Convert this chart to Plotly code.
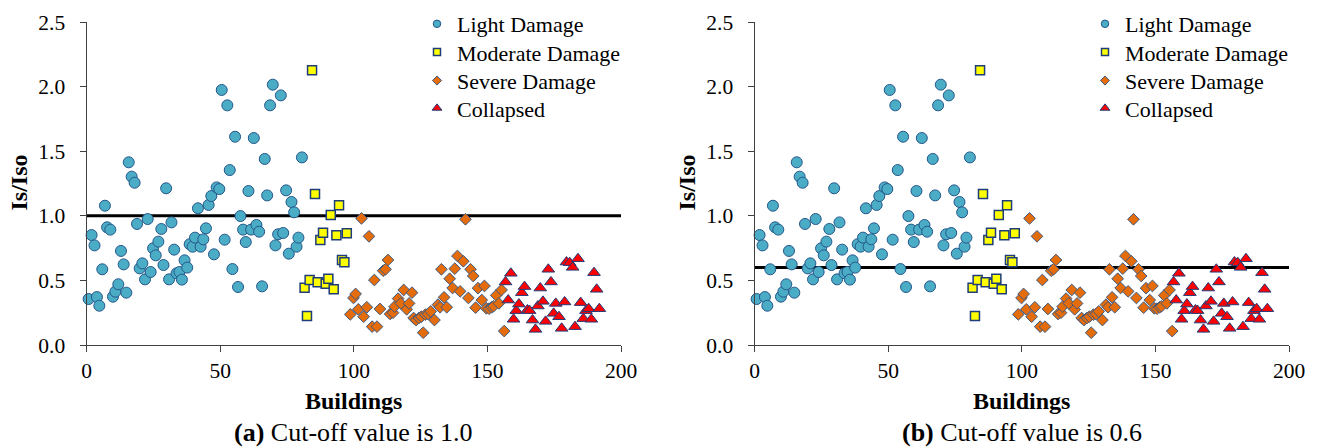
import plotly.graph_objects as go

W, H = 1319, 448

# ---------------- data ----------------
light_x = [0.8, 1.9, 3.0, 3.9, 4.8, 5.9, 6.9, 7.7, 8.9, 9.9, 10.8, 11.9, 12.9, 13.9, 14.9,
           15.8, 16.9, 18.0, 18.9, 19.9, 20.9, 21.9, 22.9, 24.0, 24.9, 25.9, 26.9, 28.0,
           28.8, 29.8, 30.9, 31.8, 32.8, 33.7, 34.8, 35.7, 36.7, 37.7, 38.6, 39.7, 40.6,
           41.7, 42.7, 43.7, 44.7, 45.7, 46.7, 47.7, 48.7, 49.7, 50.6, 51.7, 52.7, 53.6,
           54.6, 55.6, 56.7, 57.6, 58.6, 59.6, 60.6, 61.6, 62.6, 63.6, 64.6, 65.7, 66.7,
           67.6, 68.7, 69.7, 70.7, 71.7, 72.7, 73.6, 74.7, 75.7, 76.7, 77.7, 78.6, 79.3,
           80.6]
light_y = [0.356, 0.851, 0.771, 0.371, 0.304, 0.586, 1.078, 0.911, 0.893, 0.374, 0.413,
           0.470, 0.728, 0.624, 0.405, 1.414, 1.303, 1.256, 0.937, 0.593, 0.632, 0.508,
           0.975, 0.565, 0.748, 0.694, 0.800, 0.898, 0.619, 1.213, 0.508, 0.949, 0.738,
           0.555, 0.565, 0.506, 0.655, 0.599, 0.780, 0.761, 0.831, 1.058, 0.761, 0.818,
           0.903, 1.084, 1.153, 0.702, 1.220, 1.207, 1.974, 0.815, 1.855, 1.354, 0.588,
           1.612, 0.449, 0.998, 0.893, 0.797, 1.192, 0.893, 1.602, 0.929, 0.877, 0.454,
           1.440, 1.158, 1.855, 2.015, 0.771, 0.857, 1.932, 0.867, 1.197, 0.707, 1.107,
           1.027, 0.761, 0.831, 1.452]

moderate_x = [81.6, 82.5, 83.5, 84.4, 85.5, 86.5, 87.5, 88.5, 89.5, 90.5, 91.4, 92.5,
              93.5, 94.5, 95.6, 96.5, 97.4]
moderate_y = [0.444, 0.224, 0.503, 2.126, 1.169, 0.485, 0.813, 0.869, 0.475, 0.513, 1.006,
              0.431, 0.849, 1.081, 0.658, 0.640, 0.864]

severe_x = [98.7, 99.9, 100.7, 101.7, 102.9, 103.7, 104.9, 105.7, 106.9, 107.7, 108.7,
            109.8, 111.0, 111.9, 112.8, 113.6, 114.7, 115.3, 116.6, 117.6, 118.7, 119.8,
            120.7, 121.8, 122.4, 123.3, 124.4, 125.3, 126.0, 126.8, 127.8, 128.8, 130.2,
            131.5, 132.3, 132.8, 133.8, 134.8, 135.9, 137.0, 137.8, 138.8, 139.8, 141.0,
            141.8, 142.9, 143.7, 144.7, 145.6, 146.5, 147.9, 148.9, 149.6, 150.6, 151.6,
            152.3, 153.3, 154.3, 155.3, 156.3]
severe_y = [0.237, 0.364, 0.395, 0.276, 0.980, 0.219, 0.292, 0.841, 0.142, 0.503, 0.142,
            0.279, 0.575, 0.586, 0.658, 0.240, 0.250, 0.297, 0.359, 0.322, 0.426, 0.276,
            0.322, 0.405, 0.209, 0.193, 0.209, 0.219, 0.095, 0.235, 0.240, 0.260, 0.193,
            0.312, 0.292, 0.586, 0.369, 0.292, 0.513, 0.441, 0.591, 0.689, 0.415, 0.648,
            0.973, 0.364, 0.586, 0.534, 0.289, 0.440, 0.348, 0.457, 0.284, 0.281, 0.292,
            0.300, 0.384, 0.322, 0.426, 0.108]

collapsed_x = [156.8, 157.8, 158.8, 159.8, 160.8, 161.8, 162.9, 163.9, 165.0, 165.8, 166.9,
               168.0, 168.9, 169.8, 170.8, 171.8, 172.8, 173.8, 174.8, 175.6, 176.8, 177.8,
               178.9, 179.6, 180.8, 181.9, 182.8, 183.9, 184.9, 185.9, 186.9, 187.9, 188.9,
               189.9, 190.9, 191.9]
collapsed_y = [0.488, 0.348, 0.555, 0.199, 0.266, 0.317, 0.405, 0.452, 0.271, 0.266, 0.193,
               0.121, 0.302, 0.441, 0.338, 0.183, 0.586, 0.488, 0.245, 0.322, 0.219, 0.129,
               0.333, 0.642, 0.637, 0.601, 0.142, 0.668, 0.328, 0.204, 0.266, 0.281, 0.199,
               0.560, 0.431, 0.281]

cutoffs = [1.0, 0.6]
panel_letters = ["(a)", "(b)"]
x_ticks = [0, 50, 100, 150, 200]
y_ticks = [0.0, 0.5, 1.0, 1.5, 2.0, 2.5]

# ---------------- styling ----------------
FONT = "'Times New Roman', 'Liberation Serif', Times, serif"
series = [
    ("Light Damage", light_x, light_y,
     dict(symbol="circle", size=11, color="#4BACC6", line=dict(color="#24578A", width=1)), 7.5),
    ("Moderate Damage", moderate_x, moderate_y,
     dict(symbol="square", size=9, color="#FFFF00", line=dict(color="#1F3C7A", width=1.5)), 7),
    ("Severe Damage", severe_x, severe_y,
     dict(symbol="diamond", size=9, color="#E46C0A", line=dict(color="#3B5A85", width=1)), 7),
    ("Collapsed", collapsed_x, collapsed_y,
     dict(symbol="triangle-up", size=11, color="#FF0000", line=dict(color="#1F3C7A", width=1)), 8.5),
]

fig = go.Figure()

# pixel geometry of the two panels
panel_left = [86.5, 754.5]
panel_right = [621.0, 1289.0]
plot_top, plot_bottom = 22.0, 345.0
legend_row_tops = [3.0, 31.3, 59.7, 87.3]
legend_left = 417.0

legend_layout = {}
for p in range(2):
    xa = "x" if p == 0 else "x2"
    ya = "y" if p == 0 else "y2"
    for k, (name, xs, ys, mk, leg_size) in enumerate(series):
        fig.add_trace(go.Scatter(
            x=xs, y=ys, mode="markers", name=name, marker=mk,
            xaxis=xa, yaxis=ya, showlegend=False, cliponaxis=False,
        ))
        # legend entry (one small legend per entry so rows can be spaced like the original)
        idx = p * 4 + k + 1
        lname = "legend" if idx == 1 else f"legend{idx}"
        leg_marker = dict(mk)
        leg_marker["size"] = leg_size
        fig.add_trace(go.Scatter(
            x=[None], y=[None], mode="markers", name=name, marker=leg_marker,
            xaxis=xa, yaxis=ya, showlegend=True, legend=lname,
        ))
        legend_layout[lname] = dict(
            x=(legend_left + 668 * p) / W, y=1 - legend_row_tops[k] / H,
            xanchor="left", yanchor="top", bgcolor="rgba(0,0,0,0)",
            font=dict(family=FONT, size=22, color="black"), itemwidth=30,
        )
    # cut-off line
    fig.add_shape(type="line", xref=xa, yref=ya, x0=x_ticks[0], x1=x_ticks[-1],
                  y0=cutoffs[p], y1=cutoffs[p], line=dict(color="black", width=3),
                  layer="below")

axis_common = dict(
    showline=True, linecolor="#404040", linewidth=1, ticks="outside", ticklen=6,
    tickcolor="#404040", showgrid=False, zeroline=False,
    tickfont=dict(family=FONT, size=21.5, color="black"), automargin=False,
)

y_dom = [(H - plot_bottom) / H, (H - plot_top) / H]
for p in range(2):
    sfx = "" if p == 0 else str(p + 1)
    fig.update_layout(**{
        "xaxis" + sfx: dict(domain=[panel_left[p] / W, panel_right[p] / W], range=[0, 200],
                            tickvals=x_ticks, anchor="y" + sfx, **axis_common),
        "yaxis" + sfx: dict(domain=y_dom, range=[0, 2.5], tickvals=y_ticks,
                            tickformat=".1f", anchor="x" + sfx, ticklabelstandoff=10,
                            **axis_common),
    })

annotations = []
for p in range(2):
    cx = (panel_left[p] + panel_right[p]) / 2
    annotations.append(dict(text="<b>Buildings</b>", x=cx / W, y=1 - 401 / H, xref="paper",
                            yref="paper", showarrow=False, xanchor="center", yanchor="middle",
                            font=dict(family=FONT, size=24, color="black")))
    annotations.append(dict(text=f"<b>{panel_letters[p]}</b> Cut-off value is {cutoffs[p]:.1f}",
                            x=cx / W, y=1 - 432 / H, xref="paper", yref="paper",
                            showarrow=False, xanchor="center", yanchor="middle",
                            font=dict(family=FONT, size=26, color="black")))
    annotations.append(dict(text="<b>Is/Iso</b>", x=(panel_left[p] - 68) / W,
                            y=1 - 183 / H, xref="paper", yref="paper", showarrow=False,
                            textangle=-90, xanchor="center", yanchor="middle",
                            font=dict(family=FONT, size=24, color="black")))

fig.update_layout(
    width=W, height=H, margin=dict(l=0, r=0, t=0, b=0),
    plot_bgcolor="white", paper_bgcolor="white",
    font=dict(family=FONT, color="black"),
    showlegend=True,
    annotations=annotations,
    **legend_layout,
)

fig.write_html("out.html", config={"displayModeBar": False},
               post_script="document.body.style.margin='0';document.body.style.overflow='hidden';")
